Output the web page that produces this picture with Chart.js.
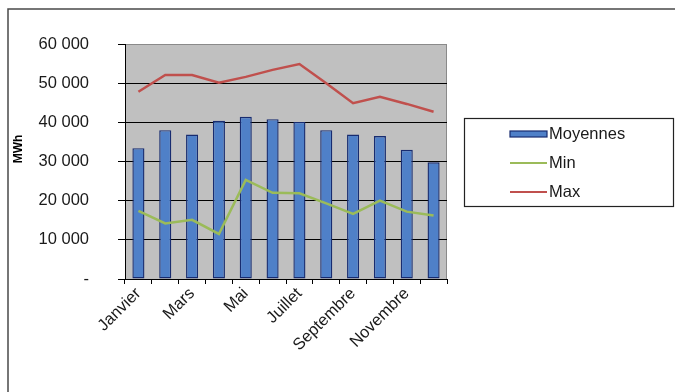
<!DOCTYPE html>
<html>
<head>
<meta charset="utf-8">
<script src="https://cdn.jsdelivr.net/npm/chart.js@4/dist/chart.umd.min.js"></script>
<style>
  html, body { margin: 0; padding: 0; background: #fff; }
  #wrap { width: 675px; height: 392px; position: relative; }
</style>
</head>
<body>
<div id="wrap"><canvas id="c" width="675" height="392"></canvas></div>
<script>
// Consommation mensuelle (MWh)
const months = ['Janvier', 'Février', 'Mars', 'Avril', 'Mai', 'Juin', 'Juillet', 'Août', 'Septembre', 'Octobre', 'Novembre', 'Décembre'];
const moyennes = [33400, 38000, 36900, 40400, 41400, 40800, 40100, 38000, 36900, 36500, 33000, 29800];
const minValues = [17400, 14200, 15100, 11500, 25300, 22000, 21900, 19300, 16600, 20000, 17200, 16200];
const maxValues = [47800, 52100, 52100, 50100, 51600, 53400, 54900, 50000, 44900, 46500, 44700, 42700];
const yMin = 0;
const yMax = 60000;
const yStep = 10000;
const unitLabel = 'MWh';

const FONT = 'Liberation Sans, Arial, sans-serif';
const TEXT_SIZE = 16.5;

function formatThousands(v) {
  if (v === 0) return '-';
  return String(v).replace(/\B(?=(\d{3})+(?!\d))/g, ' ');
}

// Cadre extérieur, fond gris de la zone de tracé et unité de l'axe vertical
const backdrop = {
  id: 'backdrop',
  beforeDraw(chart) {
    const { ctx, chartArea: a } = chart;
    ctx.save();
    ctx.fillStyle = '#ffffff';
    ctx.fillRect(0, 0, chart.width, chart.height);
    ctx.strokeStyle = '#4a4a4a';
    ctx.lineWidth = 1.5;
    ctx.beginPath();
    ctx.moveTo(8, chart.height);
    ctx.lineTo(8, 9);
    ctx.lineTo(chart.width, 9);
    ctx.stroke();
    ctx.fillStyle = '#c0c0c0';
    ctx.fillRect(a.left, a.top, a.right - a.left, a.bottom - a.top);
    ctx.strokeStyle = '#8a8a8a';
    ctx.lineWidth = 1;
    ctx.beginPath();
    ctx.moveTo(a.left, a.top + 0.5);
    ctx.lineTo(a.right - 0.5, a.top + 0.5);
    ctx.lineTo(a.right - 0.5, a.bottom);
    ctx.stroke();

    // unité, écrite verticalement
    ctx.translate(19, 149);
    ctx.rotate(-Math.PI / 2);
    ctx.font = 'bold 12px ' + FONT;
    ctx.fillStyle = '#000';
    ctx.textAlign = 'center';
    ctx.textBaseline = 'middle';
    ctx.fillText(unitLabel, 0, 0);
    ctx.restore();
  }
};

// Légende encadrée à droite du graphique
const boxLegend = {
  id: 'boxLegend',
  afterDraw(chart) {
    const { ctx } = chart;
    const box = { x: 464, y: 118, w: 210, h: 89 };
    ctx.save();
    ctx.fillStyle = '#ffffff';
    ctx.fillRect(box.x, box.y, box.w, box.h);
    ctx.strokeStyle = '#222';
    ctx.lineWidth = 1.2;
    ctx.strokeRect(box.x + 0.5, box.y + 0.5, box.w - 1, box.h - 1);
    const rows = [134, 163, 192];
    ctx.font = TEXT_SIZE + 'px ' + FONT;
    ctx.textBaseline = 'middle';
    ctx.textAlign = 'left';
    chart.data.datasets.forEach((ds, i) => {
      const y = rows[i];
      if (ds.type === 'bar') {
        ctx.fillStyle = ds.backgroundColor;
        ctx.fillRect(510, y - 3, 37, 6);
        ctx.strokeStyle = ds.borderColor;
        ctx.lineWidth = 1.2;
        ctx.strokeRect(510, y - 3, 37, 6);
      } else {
        ctx.strokeStyle = ds.borderColor;
        ctx.lineWidth = 2;
        ctx.beginPath();
        ctx.moveTo(510, y);
        ctx.lineTo(547, y);
        ctx.stroke();
      }
      ctx.fillStyle = '#1a1a1a';
      ctx.fillText(ds.label, 549, y);
    });
    ctx.restore();
  }
};

new Chart(document.getElementById('c'), {
  data: {
    labels: months,
    datasets: [
      {
        type: 'bar',
        label: 'Moyennes',
        data: moyennes,
        backgroundColor: '#4f80c8',
        borderColor: '#182c70',
        borderWidth: 1.4,
        borderSkipped: false,
        barPercentage: 0.45,
        categoryPercentage: 1.0,
        order: 3
      },
      {
        type: 'line',
        label: 'Min',
        data: minValues,
        borderColor: '#9bbb59',
        borderWidth: 2.5,
        pointRadius: 0,
        tension: 0,
        order: 1
      },
      {
        type: 'line',
        label: 'Max',
        data: maxValues,
        borderColor: '#c0504d',
        borderWidth: 2.5,
        pointRadius: 0,
        tension: 0,
        order: 2
      }
    ]
  },
  options: {
    responsive: false,
    animation: false,
    devicePixelRatio: 1,
    layout: { padding: { left: 0, top: 44, right: 228, bottom: 0 } },
    plugins: {
      legend: { display: false },
      tooltip: { enabled: false }
    },
    scales: {
      x: {
        type: 'category',
        offset: true,
        afterFit(scale) { scale.height = 113; },
        border: { display: true, color: '#000', width: 1 },
        grid: {
          offset: true,
          drawOnChartArea: false,
          drawTicks: true,
          tickLength: 5,
          color: '#000'
        },
        ticks: {
          autoSkip: false,
          minRotation: 45,
          maxRotation: 45,
          padding: 0,
          color: '#1a1a1a',
          font: { family: FONT, size: TEXT_SIZE },
          callback(value, index) {
            return index % 2 === 0 ? this.getLabelForValue(value) : '';
          }
        }
      },
      y: {
        min: yMin,
        max: yMax,
        afterFit(scale) { scale.width = 125; },
        border: { display: true, color: '#000', width: 1 },
        grid: {
          color(ctx) { return ctx.tick && ctx.tick.value === yMax ? '#8a8a8a' : '#000'; },
          tickColor: '#000',
          tickLength: 7,
          lineWidth: 1
        },
        ticks: {
          stepSize: yStep,
          padding: 29,
          color: '#1a1a1a',
          font: { family: FONT, size: TEXT_SIZE },
          callback(v) { return formatThousands(v); }
        }
      }
    }
  },
  plugins: [backdrop, boxLegend]
});
</script>
</body>
</html>
